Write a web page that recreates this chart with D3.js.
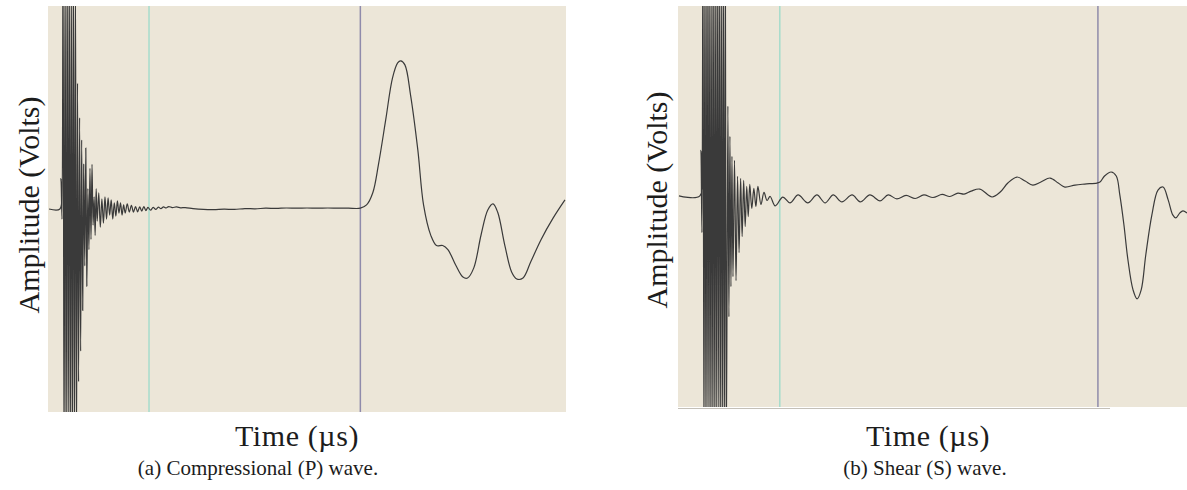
<!DOCTYPE html>
<html>
<head>
<meta charset="utf-8">
<script src="https://cdn.jsdelivr.net/npm/d3@7"></script>
<style>
  body { margin: 0; background: #fff; }
  text { font-family: "Liberation Serif", "Times New Roman", serif; fill: #1c1c1c; }
</style>
</head>
<body>
<svg id="chart"></svg>
<script>
// Set chart dimensions
const width = 1187;
const height = 490;

// Compressional (P) wave trace: [time (µs), amplitude (V)]
const pWave = [
  [0.2, 0], [2.3, 0], [2.5, 0.15], [2.7, -0.05],
  [2.9, 1.3], [3.1, -1.3], [3.3, 1.25], [3.5, -1.3], [3.7, 1.3], [3.9, -1.2], [4.1, 1.3],
  [4.3, -1.3], [4.5, 1.2], [4.7, -1.3], [4.9, 1.3], [5.1, -1.25], [5.3, 1.15], [5.5, -1.2],
  [5.7, 0.62], [5.9, -0.85], [6.1, 0.45], [6.3, -0.7], [6.5, 0.34], [6.7, -0.5], [6.9, 0.22],
  [7.1, -0.28], [7.3, 0.3], [7.5, -0.38], [7.7, 0.1], [7.9, -0.2], [8.1, 0.2], [8.3, -0.15],
  [8.5, 0.22], [8.7, -0.08], [8.9, 0.06], [9.1, -0.13], [9.3, 0.1], [9.5, -0.06], [9.8, 0.08],
  [10.1, -0.09], [10.4, 0.05], [10.7, -0.07], [11.0, 0.06], [11.3, -0.05], [11.6, 0.055],
  [11.9, -0.03], [12.2, 0.045], [12.5, -0.05], [12.8, 0.03], [13.1, -0.035], [13.4, 0.04],
  [13.7, -0.02], [14.0, 0.03], [14.3, -0.03], [14.6, 0.02], [14.9, -0.02], [15.3, 0.025],
  [15.7, -0.015], [16.1, 0.018], [16.5, -0.015], [16.9, 0.012], [17.3, -0.014], [17.7, 0.01],
  [18.1, -0.01], [18.5, 0.012], [18.9, -0.008], [19.3, 0.008], [19.8, -0.006], [20.3, 0.008],
  [20.8, -0.002], [21.3, 0.009], [21.8, 0.002], [22.3, 0.01], [22.8, 0.005], [23.3, 0.012],
  [24.0, 0.007], [24.8, 0.01], [25.6, 0.006], [26.5, 0.007], [28, 0.002], [30, -0.002],
  [32, -0.003], [34, -0.001], [36, -0.002], [38, 0.002], [40, 0.001], [42, 0.004],
  [44, 0.003], [46, 0.005], [48, 0.004], [50, 0.005], [52, 0.004], [54, 0.005],
  [56, 0.004], [58, 0.004], [60.3, 0.004],
  [61.5, 0.02], [62.7, 0.08], [63.8, 0.22], [65.2, 0.44], [66.5, 0.645], [67.5, 0.72],
  [68.1, 0.73], [68.9, 0.71], [70.0, 0.56], [71.4, 0.29], [72.5, 0.02], [73.9, -0.13],
  [75.0, -0.18], [76.2, -0.18], [77.2, -0.2], [78.7, -0.276], [80.1, -0.335], [81.0, -0.34],
  [82.2, -0.29], [83.6, -0.128], [84.9, -0.005], [85.9, 0.025], [86.8, -0.015], [88.2, -0.18],
  [89.5, -0.31], [90.5, -0.345], [91.7, -0.34], [93.2, -0.26], [95.2, -0.15], [97.5, -0.045],
  [99.8, 0.045]
];

// Shear (S) wave trace: [time (µs), amplitude (V)]
const sWave = [
  [0.2, 0.003], [4.3, 0.003], [4.5, 0.23], [4.7, -0.18],
  [4.9, 1.3], [5.1, -1.3], [5.3, 1.25], [5.5, -1.3], [5.7, 1.3], [5.9, -1.25], [6.1, 1.3],
  [6.3, -1.3], [6.5, 1.2], [6.7, -1.3], [6.9, 1.3], [7.1, -1.3], [7.3, 1.25], [7.5, -1.3],
  [7.7, 1.3], [7.9, -1.2], [8.1, 1.3], [8.3, -1.3], [8.5, 1.2], [8.7, -1.3], [8.9, 1.25],
  [9.1, -1.3], [9.3, 1.2], [9.5, -1.25],
  [9.8, 0.45], [10.0, -0.6], [10.2, 0.3], [10.4, -0.45], [10.6, 0.2], [10.8, -0.4],
  [11.1, 0.18], [11.4, -0.42], [11.7, 0.1], [12.0, -0.28], [12.3, 0.09], [12.6, -0.2],
  [12.9, 0.08], [13.2, -0.15], [13.5, 0.05], [13.8, -0.1], [14.1, 0.06], [14.5, -0.06],
  [14.9, 0.04], [15.3, -0.05], [15.7, 0.05], [16.3, -0.04], [16.9, 0.02], [17.5, -0.02],
  [18.1, 0.0], [19.1, -0.047], [20.6, -0.003], [22.0, -0.032], [23.6, 0.0075], [25.5, -0.032],
  [27.3, 0.0075], [28.9, -0.032], [30.5, 0.0075], [32.2, -0.027], [34.2, 0.0075], [35.8, -0.027],
  [37.7, 0.0075], [39.7, -0.022], [41.3, 0.0075], [43.0, -0.012], [44.8, 0.005], [46.6, -0.01],
  [48.3, 0.0075], [50.1, -0.005], [51.9, 0.01], [53.4, 0.0], [55.0, 0.017], [56.2, 0.012],
  [57.6, 0.027], [59.3, 0.037], [61.7, -0.0025], [63.3, 0.022], [64.8, 0.067], [66.6, 0.097],
  [68.2, 0.077], [69.7, 0.057], [71.3, 0.072], [73.1, 0.092], [74.7, 0.067], [76.0, 0.047],
  [78.0, 0.057], [79.9, 0.062], [82.3, 0.067],
  [82.9, 0.072], [83.8, 0.102], [85.1, 0.122], [86.1, 0.102], [86.8, 0.0075], [87.6, -0.14],
  [88.4, -0.317], [89.4, -0.466], [90.2, -0.511], [91.0, -0.466], [91.9, -0.292], [93.1, -0.092],
  [94.3, 0.032], [95.3, 0.047], [96.3, -0.017], [97.2, -0.092], [97.8, -0.107], [98.6, -0.082],
  [99.2, -0.072], [100, -0.082]
];

// Cursor positions (µs): first arrival pick, wave arrival pick
const pMarkers = [19.5, 60.3];
const sMarkers = [20.0, 82.5];

const yLabel = "Amplitude (Volts)";
const xLabel = "Time (µs)";
const captions = ["(a) Compressional (P) wave.", "(b) Shear (S) wave."];

// Panel layout
const panels = [
  { wave: pWave, markers: pMarkers, caption: captions[0],
    x0: 48, x1: 566, y0: 6, y1: 412, yDomain: [-1, 1],
    yLabelX: 28, yLabelY: 205, xLabelX: 297, captionX: 258 },
  { wave: sWave, markers: sMarkers, caption: captions[1],
    x0: 678, x1: 1187, y0: 6, y1: 407, yDomain: [-1.05, 0.95],
    yLabelX: 656, yLabelY: 200, xLabelX: 928, captionX: 925 }
];

const markerColors = ["#a6dccc", "#8f8bab"];

// Create SVG
const svg = d3.select("#chart")
    .attr("width", width)
    .attr("height", height);

panels.forEach((p, i) => {
    const x = d3.scaleLinear().domain([0, 100]).range([p.x0, p.x1]);
    const y = d3.scaleLinear().domain(p.yDomain).range([p.y1, p.y0]);

    // Scope background
    svg.append("rect")
        .attr("x", p.x0).attr("y", p.y0)
        .attr("width", p.x1 - p.x0).attr("height", p.y1 - p.y0)
        .attr("fill", "#ece6d8");

    svg.append("clipPath").attr("id", "clip" + i)
        .append("rect")
        .attr("x", p.x0).attr("y", p.y0)
        .attr("width", p.x1 - p.x0).attr("height", p.y1 - p.y0);

    // Cursor lines
    svg.selectAll(".marker" + i)
        .data(p.markers)
        .join("line")
        .attr("x1", d => x(d)).attr("x2", d => x(d))
        .attr("y1", p.y0).attr("y2", p.y1)
        .attr("stroke", (d, j) => markerColors[j])
        .attr("stroke-width", 1.5);

    // Trace
    const line = d3.line()
        .x(d => x(d[0]))
        .y(d => y(d[1]))
        .curve(d3.curveCatmullRom.alpha(0.5));

    svg.append("path")
        .datum(p.wave)
        .attr("clip-path", `url(#clip${i})`)
        .attr("d", line)
        .attr("fill", "none")
        .attr("stroke", "#3a3a3a")
        .attr("stroke-width", 1.2);

    // Axis titles
    svg.append("text")
        .attr("transform", `translate(${p.yLabelX},${p.yLabelY}) rotate(-90)`)
        .attr("text-anchor", "middle")
        .attr("dy", "0.35em")
        .style("font-size", "30px")
        .text(yLabel);

    svg.append("text")
        .attr("x", p.xLabelX).attr("y", 446)
        .attr("text-anchor", "middle")
        .style("font-size", "30px")
        .style("letter-spacing", "0.6px")
        .text(xLabel);

    svg.append("text")
        .attr("x", p.captionX).attr("y", 475)
        .attr("text-anchor", "middle")
        .style("font-size", "21px")
        .text(p.caption);
});

// faint bottom rule under the shear panel
svg.append("line")
    .attr("x1", 678).attr("x2", 1110)
    .attr("y1", 408.5).attr("y2", 408.5)
    .attr("stroke", "#c4c0b8");
</script>
</body>
</html>
